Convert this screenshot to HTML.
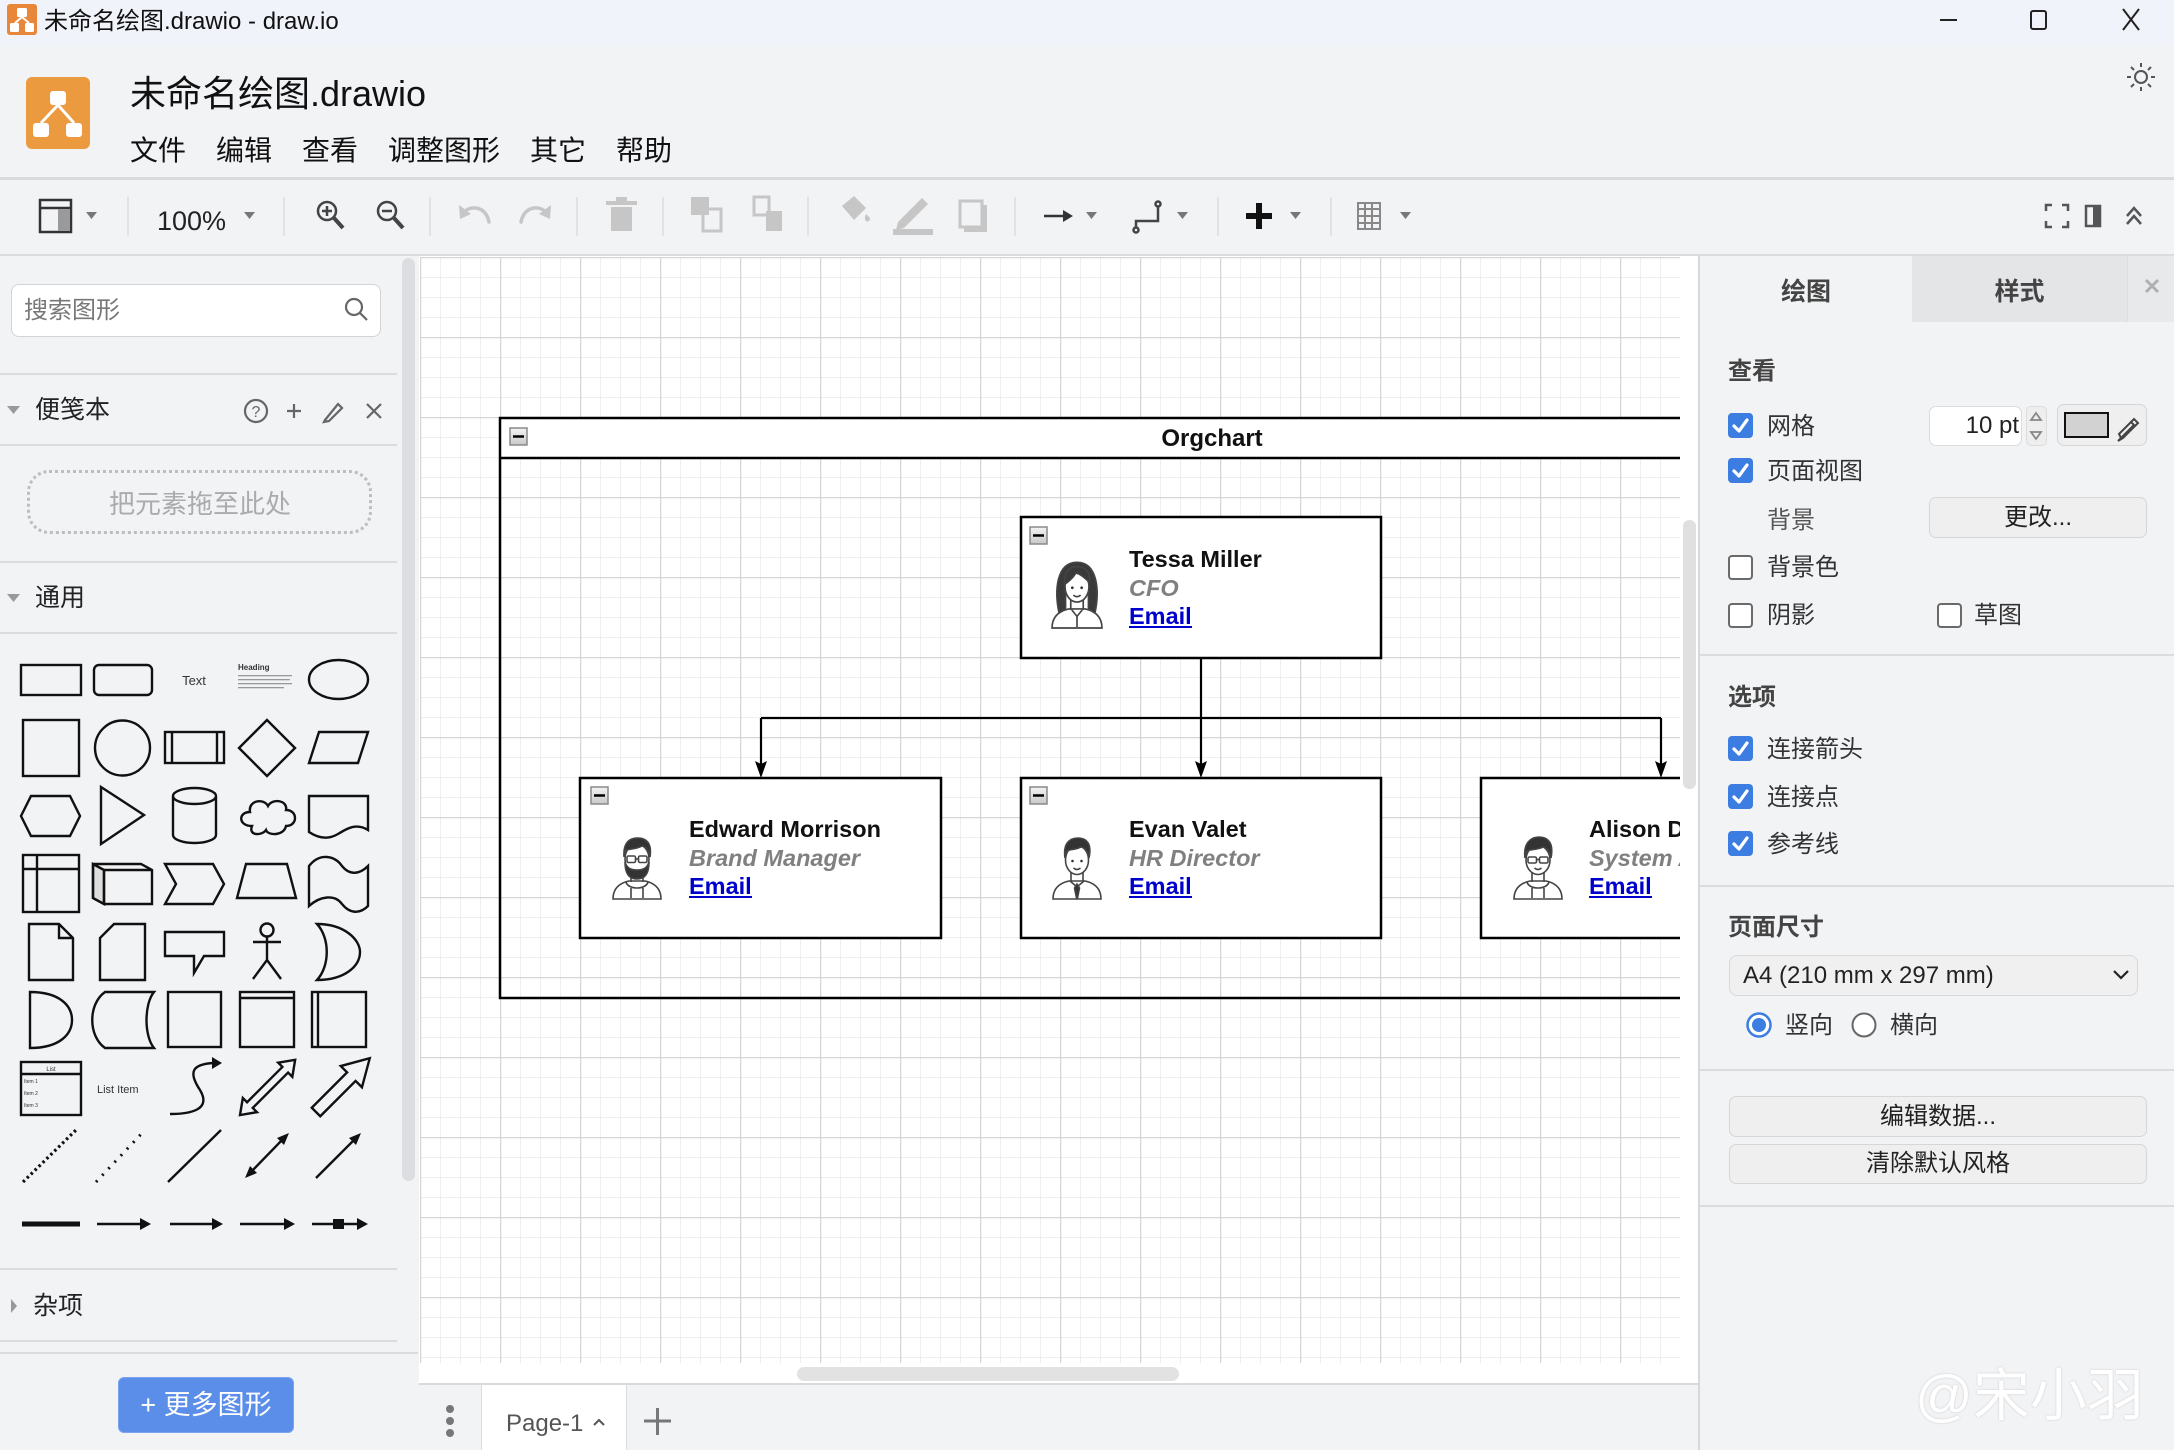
<!DOCTYPE html>
<html><head><meta charset="utf-8">
<style>
*{margin:0;padding:0;box-sizing:border-box}
html,body{width:2174px;height:1450px;overflow:hidden}
body{background:#f2f3f5;position:relative;font-family:"Liberation Sans","Noto Sans CJK SC",sans-serif;color:#222}
.a{position:absolute}
.t{position:absolute;white-space:nowrap;line-height:1}
.sep{position:absolute;background:#dcdcdc}
.cb{position:absolute;width:25px;height:25px;border-radius:4px}
.cb.on{background:#3b7de0}
.cb.off{background:#fff;border:2px solid #6a6a6a}
.btn{position:absolute;background:#efefef;border:1.5px solid #d6d6d6;border-radius:7px;font-size:24px;color:#222;display:flex;align-items:center;justify-content:center;line-height:1}
.rp{font-size:24px;color:#333}
.bold{font-weight:bold;color:#444}
</style></head><body>

<!-- backgrounds -->
<div class="a" style="left:0;top:0;width:2174px;height:45px;background:#f0f3f9"></div>
<div class="a" style="left:0;top:177px;width:2174px;height:3px;background:#dadada"></div>
<div class="a" style="left:0;top:254px;width:2174px;height:2px;background:#dcdcdc"></div>
<!-- canvas -->
<div class="a" style="left:419px;top:256px;width:1279px;height:1127px;background:#fff"></div>
<div class="a" style="left:1683px;top:520px;width:13px;height:269px;background:#e0e0e0;border-radius:6px"></div>
<div class="a" style="left:797px;top:1367px;width:382px;height:14px;background:#e2e2e2;border-radius:7px"></div>
<!-- bottom bar -->
<div class="a" style="left:419px;top:1383px;width:1280px;height:67px;background:#f2f3f5;border-top:2px solid #dadada"></div>
<div class="a" style="left:481px;top:1385px;width:146px;height:65px;background:#fff;border-left:1px solid #ddd;border-right:1px solid #ddd"></div>
<!-- left scrollbar -->
<div class="a" style="left:402px;top:258px;width:13px;height:923px;background:#dcdde0;border-radius:7px"></div>
<!-- right panel -->
<div class="a" style="left:1698px;top:256px;width:476px;height:1194px;background:#f2f3f5;border-left:2px solid #d8d8d8"></div>
<div class="a" style="left:1912px;top:256px;width:215px;height:66px;background:#e4e5e7"></div>
<div class="a" style="left:2127px;top:256px;width:47px;height:66px;background:#e8e9eb;border-left:1px solid #dedede"></div>
<div class="sep" style="left:1700px;top:654px;width:474px;height:2px"></div>
<div class="sep" style="left:1700px;top:885px;width:474px;height:2px"></div>
<div class="sep" style="left:1700px;top:1069px;width:474px;height:2px"></div>
<div class="sep" style="left:1700px;top:1205px;width:474px;height:2px"></div>
<!-- left separators -->
<div class="sep" style="left:0;top:373px;width:397px;height:2px"></div>
<div class="sep" style="left:0;top:444px;width:397px;height:2px"></div>
<div class="sep" style="left:0;top:561px;width:397px;height:2px"></div>
<div class="sep" style="left:0;top:632px;width:397px;height:2px"></div>
<div class="sep" style="left:0;top:1268px;width:397px;height:2px"></div>
<div class="sep" style="left:0;top:1340px;width:397px;height:2px"></div>
<div class="sep" style="left:0;top:1352px;width:418px;height:2px"></div>
<!-- search box -->
<div class="a" style="left:11px;top:284px;width:370px;height:53px;background:#fff;border:1.5px solid #d4d4d4;border-radius:8px"></div>
<!-- drop box -->
<div class="a" style="left:27px;top:470px;width:345px;height:64px;border:3px dotted #bdbdbd;border-radius:22px"></div>
<!-- more shapes button -->
<div class="a" style="left:118px;top:1377px;width:176px;height:56px;background:#5b8ee9;border-radius:6px;border:1px solid #7aa3ee;color:#fff;font-size:27px;display:flex;align-items:center;justify-content:center;line-height:1">+ 更多图形</div>

<!-- right panel inputs -->
<div class="a" style="left:1929px;top:406px;width:93px;height:40px;background:#fff;border:1.5px solid #dcdcdc;border-radius:7px"></div>
<div class="a" style="left:2026px;top:406px;width:21px;height:40px;background:#eeeeee;border:1.5px solid #dcdcdc;border-radius:5px"></div>
<div class="a" style="left:2057px;top:404px;width:90px;height:42px;background:#efefef;border:1.5px solid #d6d6d6;border-radius:7px"></div>
<div class="a" style="left:2064px;top:412px;width:45px;height:26px;background:#d2d2d2;border:2px solid #111"></div>
<div class="btn" style="left:1929px;top:497px;width:218px;height:41px">更改...</div>
<div class="a" style="left:1729px;top:955px;width:409px;height:41px;background:#f0f0f0;border:1.5px solid #d8d8d8;border-radius:8px"></div>
<div class="btn" style="left:1729px;top:1096px;width:418px;height:41px">编辑数据...</div>
<div class="btn" style="left:1729px;top:1144px;width:418px;height:40px">清除默认风格</div>

<!-- checkboxes -->
<div class="cb on" style="left:1728px;top:413px"><svg width="25" height="25"><path d="M6,13 L11,18 L19,7" stroke="#fff" stroke-width="3.2" fill="none" stroke-linecap="round" stroke-linejoin="round"/></svg></div>
<div class="cb on" style="left:1728px;top:458px"><svg width="25" height="25"><path d="M6,13 L11,18 L19,7" stroke="#fff" stroke-width="3.2" fill="none" stroke-linecap="round" stroke-linejoin="round"/></svg></div>
<div class="cb off" style="left:1728px;top:555px"></div>
<div class="cb off" style="left:1728px;top:603px"></div>
<div class="cb off" style="left:1937px;top:603px"></div>
<div class="cb on" style="left:1728px;top:736px"><svg width="25" height="25"><path d="M6,13 L11,18 L19,7" stroke="#fff" stroke-width="3.2" fill="none" stroke-linecap="round" stroke-linejoin="round"/></svg></div>
<div class="cb on" style="left:1728px;top:784px"><svg width="25" height="25"><path d="M6,13 L11,18 L19,7" stroke="#fff" stroke-width="3.2" fill="none" stroke-linecap="round" stroke-linejoin="round"/></svg></div>
<div class="cb on" style="left:1728px;top:831px"><svg width="25" height="25"><path d="M6,13 L11,18 L19,7" stroke="#fff" stroke-width="3.2" fill="none" stroke-linecap="round" stroke-linejoin="round"/></svg></div>

<svg class="a" style="left:0;top:0" width="2174" height="1450" viewBox="0 0 2174 1450">
<defs>
<pattern id="grid" patternUnits="userSpaceOnUse" x="20" y="17" width="80" height="80">
<path d="M20.5,0 V80 M40.5,0 V80 M60.5,0 V80 M0,20.5 H80 M0,40.5 H80 M0,60.5 H80" stroke="#efefef" stroke-width="1"/>
<path d="M0.5,0 V80 M0,0.5 H80" stroke="#d6d6d6" stroke-width="1.5"/>
</pattern>
<clipPath id="cv"><rect x="419" y="256" width="1261" height="1127"/></clipPath>
<linearGradient id="cg" x1="0" y1="0" x2="0" y2="1"><stop offset="0" stop-color="#f4f4f4"/><stop offset="1" stop-color="#c8c8c8"/></linearGradient>
</defs>

<!-- title bar icon -->
<rect x="7" y="4" width="30" height="31" rx="3" fill="#e8873a"/>
<g fill="#fff"><rect x="17" y="8" width="10" height="9" rx="1.5"/><rect x="10" y="23" width="9" height="9" rx="1.5"/><rect x="25" y="23" width="9" height="9" rx="1.5"/></g>
<path d="M22,17 L15,23 M22,17 L29,23" stroke="#fff" stroke-width="2"/>
<!-- window controls -->
<path d="M1940,20 H1957" stroke="#222" stroke-width="2"/>
<rect x="2031" y="11" width="15" height="18" rx="2" fill="none" stroke="#222" stroke-width="2"/>
<path d="M2123,9 L2139,30 M2139,9 L2123,30" stroke="#222" stroke-width="2"/>
<!-- sun -->
<g stroke="#555" stroke-width="2" fill="none"><circle cx="2141" cy="77" r="6"/><path d="M2141,63 V67 M2141,87 V91 M2127,77 H2131 M2151,77 H2155 M2131,67 L2134,70 M2148,84 L2151,87 M2151,67 L2148,70 M2134,84 L2131,87"/></g>
<!-- header logo -->
<rect x="26" y="77" width="64" height="72" rx="6" fill="#ec9a3f"/>
<g fill="#fff"><rect x="50" y="91" width="16" height="14" rx="3"/><rect x="33" y="123" width="16" height="14" rx="3"/><rect x="66" y="123" width="16" height="14" rx="3"/></g>
<path d="M58,105 L41,123 M58,105 L74,123" stroke="#fff" stroke-width="3"/>

<!-- toolbar separators -->
<g stroke="#dcdcdc" stroke-width="1.5"><path d="M128,197 V236 M284,197 V236 M430,197 V236 M577,197 V236 M663,197 V236 M808,197 V236 M1015,197 V236 M1218,197 V236 M1331,197 V236"/></g>
<!-- toolbar icons -->
<rect x="40" y="200" width="31" height="32" fill="none" stroke="#333" stroke-width="2.5"/>
<path d="M40,208 H71" stroke="#333" stroke-width="2.5"/>
<rect x="58" y="209" width="12" height="22" fill="#9a9a9a"/>
<g fill="#777"><polygon points="86,212 97,212 91.5,219"/><polygon points="244,212 255,212 249.5,219"/><polygon points="1086,212 1097,212 1091.5,219"/><polygon points="1177,212 1188,212 1182.5,219"/><polygon points="1290,212 1301,212 1295.5,219"/><polygon points="1400,212 1411,212 1405.5,219"/></g>
<g stroke="#444" stroke-width="2.5" fill="none"><circle cx="327" cy="211" r="9"/><path d="M334,218 L343,228" stroke-width="4"/><path d="M322,211 H332 M327,206 V216"/>
<circle cx="387" cy="211" r="9"/><path d="M394,218 L403,228" stroke-width="4"/><path d="M382,211 H392"/></g>
<g stroke="#c6c6c6" stroke-width="3.5" fill="none" stroke-linecap="round"><path d="M462,214 C470,204 486,206 489,222"/><path d="M548,214 C540,204 524,206 521,222"/></g>
<g fill="#c6c6c6"><polygon points="459,205 460,219 471,214"/><polygon points="551,205 550,219 539,214"/>
<rect x="611" y="207" width="21" height="24"/><rect x="606" y="201" width="31" height="4"/><rect x="616" y="197" width="11" height="4"/>
<rect x="691" y="197" width="18" height="18"/><rect x="703" y="209" width="18" height="22" fill="none" stroke="#c6c6c6" stroke-width="3"/>
<rect x="754" y="197" width="15" height="18" fill="none" stroke="#c6c6c6" stroke-width="3"/><rect x="766" y="211" width="16" height="20"/>
<path d="M842,206 L854,196 L866,208 L854,220 Z"/><path d="M866,214 C862,222 870,224 870,218 Z"/>
<path d="M898,222 L922,198 L928,204 L904,228 L896,230 Z"/><rect x="893" y="229" width="40" height="6"/>
<rect x="960" y="201" width="22" height="26" fill="none" stroke="#c6c6c6" stroke-width="3"/><rect x="982" y="205" width="5" height="26"/><rect x="964" y="227" width="23" height="5"/></g>
<path d="M1044,216 H1064" stroke="#333" stroke-width="2.5"/><polygon points="1073,216 1063,210 1063,222" fill="#333"/>
<g stroke="#444" stroke-width="2.5" fill="none"><path d="M1136,228 V221 H1158 V206"/><circle cx="1136" cy="230" r="2.5"/><circle cx="1158" cy="204" r="2.5"/></g>
<path d="M1259,203 V229 M1246,216 H1272" stroke="#111" stroke-width="6"/>
<g stroke="#888" stroke-width="2" fill="none"><rect x="1358" y="203" width="22" height="26"/><path d="M1365,203 V229 M1372,203 V229 M1358,209 H1380 M1358,216 H1380 M1358,223 H1380"/></g>
<g stroke="#555" stroke-width="2.5" fill="none"><path d="M2046,211 V205 H2052 M2062,205 H2068 V211 M2068,221 V227 H2062 M2052,227 H2046 V221"/>
<rect x="2086" y="206" width="14" height="20"/><path d="M2127,216 L2134,208 L2141,216 M2127,224 L2134,216 L2141,224"/></g>
<rect x="2093" y="206" width="7" height="20" fill="#555"/>

<!-- left sidebar icons -->
<g stroke="#666" stroke-width="2.2" fill="none"><circle cx="354" cy="307" r="8"/><path d="M360,313 L367,320"/>
<circle cx="256" cy="411" r="11"/><path d="M287,411 H301 M294,404 V418 M367,404 L381,418 M381,404 L367,418"/>
<path d="M325,420 L338,404 L342,408 L329,421 L324,422 Z"/></g>
<text x="256" y="417" font-size="16" text-anchor="middle" fill="#666" font-family="Liberation Sans">?</text>
<g fill="#999"><polygon points="7,406 20,406 13.5,414"/><polygon points="7,594 20,594 13.5,602"/><polygon points="11,1299 11,1313 17,1306"/></g>

<!-- shapes palette -->
<g stroke="#111" stroke-width="2.4" fill="none">
<rect x="21" y="665" width="60" height="30"/>
<rect x="94" y="665" width="58" height="30" rx="5"/>
<ellipse cx="338.5" cy="679.5" rx="29.5" ry="19.5"/>
<rect x="23" y="720" width="56" height="56"/>
<circle cx="122.5" cy="748" r="27.5"/>
<rect x="165" y="732" width="59" height="31"/><path d="M172,732 V763 M217,732 V763"/>
<polygon points="267,720 295,748 267,776 239,748"/>
<polygon points="319,732 368,732 358,763 309,763"/>
<polygon points="21,816 31,796 70,796 80,816 70,836 31,836"/>
<polygon points="101,787 144,815 101,844"/>
<path d="M173,796 A21.5,8 0 0 1 216,796 L216,835 A21.5,8 0 0 1 173,835 Z M173,796 A21.5,8 0 0 0 216,796"/>
<path d="M252,826 C238,826 238,812 250,812 C248,800 264,798 268,806 C272,798 288,800 286,810 C298,810 298,826 286,826 C284,836 268,836 266,830 C262,836 248,836 252,826 Z"/>
<path d="M309,796 L368,796 L368,830 C355,822 345,830 338,834 C328,840 318,838 309,832 Z"/>
<rect x="23" y="855" width="56" height="57"/><path d="M37,855 V912 M23,869 H79"/>
<polygon points="93,864 104,870 104,904 93,898" fill="#ddd"/>
<path d="M93,864 L141,864 L152,870 L152,904 L104,904 L93,898 Z M93,864 L104,870 L152,870 M104,870 L104,904"/>
<polygon points="165,864 213,864 224,884 213,904 165,904 176,884"/>
<polygon points="246,864 287,864 296,898 237,898"/>
<path d="M309,866 C320,852 335,856 342,866 C350,876 360,874 368,866 L368,906 C360,914 350,914 342,904 C335,894 320,896 309,906 Z"/>
<path d="M29,924 L59,924 L73,938 L73,980 L29,980 Z M59,924 L59,938 L73,938"/>
<path d="M114,924 L145,924 L145,980 L100,980 L100,938 Z"/>
<path d="M165,932 L224,932 L224,956 L204,956 L194,973 L194,956 L165,956 Z"/>
<circle cx="267" cy="930" r="6.5"/><path d="M267,937 V960 M253,942 H281 M267,960 L253,979 M267,960 L281,979"/>
<path d="M317,924 C345,924 360,940 360,952 C360,966 345,980 317,980 C330,966 330,938 317,924 Z"/>
<path d="M30,992 C60,992 72,1006 72,1020 C72,1034 60,1048 30,1048 Z"/>
<path d="M105,992 L154,992 C144,1004 144,1036 154,1048 L105,1048 C88,1036 88,1004 105,992 Z"/>
<rect x="168" y="992" width="53" height="55"/>
<rect x="240" y="992" width="54" height="55"/><path d="M240,998 H294"/>
<rect x="312" y="992" width="54" height="55"/><path d="M318,992 V1047"/>
<rect x="21" y="1062" width="60" height="53"/><path d="M21,1074 H81"/>
<path d="M170,1114 C190,1114 212,1110 200,1090 C188,1072 192,1064 214,1063"/>
<g transform="translate(240,1115) rotate(-45)"><polygon points="0,0 14,-10 14,-4 64,-4 64,-10 78,0 64,10 64,4 14,4 14,10"/></g>
<g transform="translate(316,1112) rotate(-45)"><polygon points="0,-6 50,-6 50,-15 76,0 50,15 50,6 0,6"/></g>
<path d="M23,1182 L76,1130" stroke-width="3.2" stroke-dasharray="2.5 3"/>
<path d="M96,1182 L145,1130" stroke-width="3" stroke-dasharray="2 7"/>
<path d="M168,1182 L221,1130"/>
<path d="M250,1173 L284,1138"/>
<path d="M316,1178 L356,1138"/>
<path d="M22,1224 H80" stroke-width="5"/>
<path d="M97,1224 H142 M170,1224 H214 M240,1224 H286 M312,1224 H360"/>
</g>
<g fill="#111">
<polygon points="222,1063 212,1057 212,1069"/>
<polygon points="289,1133 284,1145 277,1138"/><polygon points="245,1178 257,1173 250,1166"/>
<polygon points="361,1133 356,1145 349,1138"/>
<polygon points="151,1224 140,1218 140,1230"/><polygon points="223,1224 212,1218 212,1230"/><polygon points="295,1224 284,1218 284,1230"/><polygon points="368,1224 357,1218 357,1230"/>
<rect x="333" y="1219" width="11" height="10"/>
</g>
<g fill="#999"><rect x="238" y="675" width="54" height="1.3"/><rect x="238" y="679" width="52" height="1.3"/><rect x="238" y="683" width="54" height="1.3"/><rect x="238" y="687" width="46" height="1.3"/></g>
<g font-family="Liberation Sans" fill="#333">
<text x="194" y="685" font-size="13" text-anchor="middle">Text</text>
<text x="238" y="670" font-size="8" font-weight="bold">Heading</text>
<text x="97" y="1093" font-size="11">List Item</text>
<text x="51" y="1071" font-size="6" text-anchor="middle">List</text>
<text x="24" y="1083" font-size="5">Item 1</text><text x="24" y="1095" font-size="5">Item 2</text><text x="24" y="1107" font-size="5">Item 3</text>
</g>

<!-- right panel small icons -->
<path d="M2146,280 L2158,292 M2158,280 L2146,292" stroke="#b0b0b0" stroke-width="3"/>
<g stroke="#888" stroke-width="1.8" fill="none"><polygon points="2031,420 2041,420 2036,413"/><polygon points="2031,432 2041,432 2036,439"/></g>
<g stroke="#444" stroke-width="2" fill="none"><path d="M2121,438 L2134,425"/><path d="M2118,441 L2121,438 L2119,434 L2131,422 L2135,426 L2123,438 Z"/><path d="M2131,422 L2134,419 L2138,423 L2135,426"/></g>
<polyline points="2114,971 2121,978 2128,971" stroke="#222" stroke-width="2.2" fill="none"/>
<circle cx="1759" cy="1025" r="11.5" fill="#fff" stroke="#3b7de0" stroke-width="2.5"/><circle cx="1759" cy="1025" r="7" fill="#3b7de0"/>
<circle cx="1864" cy="1025" r="11.5" fill="#fff" stroke="#666" stroke-width="2"/>

<!-- bottom bar icons -->
<g fill="#777"><circle cx="450" cy="1409" r="4"/><circle cx="450" cy="1421" r="4"/><circle cx="450" cy="1433" r="4"/></g>
<polyline points="594,1425 599,1420 604,1425" stroke="#555" stroke-width="2" fill="none"/>
<path d="M644,1421 H671 M657.5,1408 V1435" stroke="#777" stroke-width="3"/>

<!-- canvas grid + diagram -->
<g clip-path="url(#cv)">
<rect x="420" y="257" width="1260" height="1106" fill="url(#grid)"/>
<rect x="500" y="418" width="1300" height="40" fill="#fff"/>
<rect x="500" y="418" width="1300" height="580" fill="none" stroke="#000" stroke-width="2.5"/>
<path d="M500,458 H1800" stroke="#000" stroke-width="2.5"/>
<text x="1212" y="446" font-family="Liberation Sans" font-size="24" font-weight="bold" text-anchor="middle" fill="#111">Orgchart</text>

<!-- connectors -->
<g stroke="#000" stroke-width="2.2" fill="none"><path d="M1201,658 V764 M761,718 H1661 M761,718 V764 M1661,718 V764"/></g>
<g fill="#000"><polygon points="1201,778 1195,761 1201,764 1207,761"/><polygon points="761,778 755,761 761,764 767,761"/><polygon points="1661,778 1655,761 1661,764 1667,761"/></g>

<!-- boxes -->
<g fill="#fff" stroke="#000" stroke-width="2.5">
<rect x="1021" y="517" width="360" height="141"/>
<rect x="580" y="778" width="361" height="160"/>
<rect x="1021" y="778" width="360" height="160"/>
<rect x="1481" y="778" width="400" height="160"/>
</g>
<!-- collapse icons -->
<g><rect x="510" y="428" width="17" height="17" fill="url(#cg)" stroke="#8a8a8a" stroke-width="1.5"/><path d="M513,436.5 H524" stroke="#000" stroke-width="2.5"/>
<rect x="1030" y="527" width="17" height="17" fill="url(#cg)" stroke="#8a8a8a" stroke-width="1.5"/><path d="M1033,535.5 H1044" stroke="#000" stroke-width="2.5"/>
<rect x="591" y="787" width="17" height="17" fill="url(#cg)" stroke="#8a8a8a" stroke-width="1.5"/><path d="M594,795.5 H605" stroke="#000" stroke-width="2.5"/>
<rect x="1030" y="787" width="17" height="17" fill="url(#cg)" stroke="#8a8a8a" stroke-width="1.5"/><path d="M1033,795.5 H1044" stroke="#000" stroke-width="2.5"/></g>

<!-- texts -->
<g font-family="Liberation Sans" font-size="23.5" font-weight="bold">
<text x="1129" y="567" fill="#111">Tessa Miller</text>
<text x="1129" y="596" fill="#808080" font-style="italic">CFO</text>
<text x="1129" y="624" fill="#0000cc">Email</text>
<text x="689" y="837" fill="#111">Edward Morrison</text>
<text x="689" y="866" fill="#808080" font-style="italic">Brand Manager</text>
<text x="689" y="894" fill="#0000cc">Email</text>
<text x="1129" y="837" fill="#111">Evan Valet</text>
<text x="1129" y="866" fill="#808080" font-style="italic">HR Director</text>
<text x="1129" y="894" fill="#0000cc">Email</text>
<text x="1589" y="837" fill="#111">Alison Donovan</text>
<text x="1589" y="866" fill="#808080" font-style="italic">System Admin</text>
<text x="1589" y="894" fill="#0000cc">Email</text>
</g>
<g fill="#0000cc"><rect x="1129" y="626" width="63" height="2"/><rect x="689" y="896" width="63" height="2"/><rect x="1129" y="896" width="63" height="2"/><rect x="1589" y="896" width="63" height="2"/></g>

<!-- avatars -->
<g transform="translate(1051,557) scale(1.04,1.06)" stroke="#444" stroke-width="1.6">
<path d="M8,54 C3,32 5,5 25,5 C45,5 47,32 42,54 L36,52 L36,30 L14,30 L14,52 Z" fill="#3a3a3a"/>
<path d="M1,67 C1,56 8,51 17,49 L33,49 C42,51 49,56 49,67 Z" fill="#fff"/>
<path d="M19,40 V50 M31,40 V50 M20,50 L25,56 L30,50 M25,56 V66" fill="none"/>
<ellipse cx="25" cy="28" rx="11.5" ry="14.5" fill="#fff"/>
<path d="M13,26 C12,14 18,9 25,9 C33,9 38,14 37,24 C33,20 28,16 24,15 C21,20 17,23 13,26 Z" fill="#3a3a3a"/>
<circle cx="20.5" cy="29" r="1.3" fill="#333" stroke="none"/><circle cx="29.5" cy="29" r="1.3" fill="#333" stroke="none"/>
<path d="M21.5,36 Q25,39 28.5,36" fill="none"/>
</g>
<g transform="translate(612,832)" stroke="#444" stroke-width="1.6">
<path d="M1,67 C1,56 8,51 17,49 L33,49 C42,51 49,56 49,67 Z" fill="#fff"/>
<path d="M14,50 C16,58 34,58 36,50 M19,56 V66 M31,56 V66" fill="none"/>
<path d="M19,40 V50 M31,40 V50" fill="none"/>
<ellipse cx="25" cy="27" rx="12" ry="15" fill="#fff"/>
<path d="M12,25 C11,11 17,6 26,6 C35,6 40,12 38,25 C37,18 34,15 30,14 C25,17 18,17 14,18 C13,20 12,23 12,25 Z" fill="#333"/>
<path d="M13,30 C13,43 18,47 25,47 C32,47 37,43 37,30 C35,37 30,38 25,38 C20,38 15,37 13,30 Z" fill="#333"/>
<rect x="15" y="24" width="8.5" height="6.5" rx="1.5" fill="none"/><rect x="26.5" y="24" width="8.5" height="6.5" rx="1.5" fill="none"/>
<path d="M23.5,27 H26.5" fill="none"/>
</g>
<g transform="translate(1052,832)" stroke="#444" stroke-width="1.6">
<path d="M1,67 C1,56 8,51 17,49 L33,49 C42,51 49,56 49,67 Z" fill="#fff"/>
<path d="M19,40 V50 M31,40 V50 M18,49 L25,55 L32,49" fill="none"/>
<polygon points="25,52 22.5,56 24.5,66 25.5,66 27.5,56" fill="#333"/>
<ellipse cx="25" cy="28" rx="11.5" ry="14.5" fill="#fff"/>
<path d="M13,26 C11,12 17,6 26,6 C35,6 40,12 37,26 C36,19 33,16 29,15 C24,18 18,17 15,19 C14,21 13,23 13,26 Z" fill="#333"/>
<circle cx="20.5" cy="29" r="1.3" fill="#333" stroke="none"/><circle cx="29.5" cy="29" r="1.3" fill="#333" stroke="none"/>
<path d="M21.5,36 Q25,39 28.5,36" fill="none"/>
</g>
<g transform="translate(1513,832)" stroke="#444" stroke-width="1.6">
<path d="M1,67 C1,56 8,51 17,49 L33,49 C42,51 49,56 49,67 Z" fill="#fff"/>
<path d="M14,50 C16,58 34,58 36,50 M19,56 V66 M31,56 V66" fill="none"/>
<path d="M19,40 V50 M31,40 V50" fill="none"/>
<ellipse cx="25" cy="28" rx="12" ry="14.5" fill="#fff"/>
<path d="M12,26 C10,11 18,5 26,5 C35,5 41,11 38,26 C37,19 34,16 30,15 C25,18 18,17 14,19 C13,21 12,23 12,26 Z" fill="#333"/>
<rect x="15" y="25" width="8.5" height="6" rx="1.5" fill="none"/><rect x="26.5" y="25" width="8.5" height="6" rx="1.5" fill="none"/>
<path d="M23.5,27.5 H26.5" fill="none"/>
<path d="M21.5,36 Q25,39 28.5,36" fill="none"/>
</g>
</g>
</svg>

<!-- text -->
<div class="t" style="left:44px;top:10px;font-size:24px;color:#111">未命名绘图.drawio - draw.io</div>
<div class="t" style="left:130px;top:76px;font-size:36px;color:#111">未命名绘图.drawio</div>
<div class="t" style="left:130px;top:137px;font-size:28px;color:#111">文件</div>
<div class="t" style="left:216px;top:137px;font-size:28px;color:#111">编辑</div>
<div class="t" style="left:302px;top:137px;font-size:28px;color:#111">查看</div>
<div class="t" style="left:388px;top:137px;font-size:28px;color:#111">调整图形</div>
<div class="t" style="left:530px;top:137px;font-size:28px;color:#111">其它</div>
<div class="t" style="left:616px;top:137px;font-size:28px;color:#111">帮助</div>
<div class="t" style="left:157px;top:208px;font-size:27px;color:#222">100%</div>

<div class="t" style="left:24px;top:299px;font-size:24px;color:#777">搜索图形</div>
<div class="t" style="left:35px;top:398px;font-size:25px;color:#222">便笺本</div>
<div class="t" style="left:109px;top:491px;font-size:26px;color:#ababab">把元素拖至此处</div>
<div class="t" style="left:35px;top:586px;font-size:25px;color:#222">通用</div>
<div class="t" style="left:33px;top:1294px;font-size:25px;color:#222">杂项</div>

<div class="t" style="left:1700px;width:212px;text-align:center;top:280px;font-size:25px;font-weight:bold;color:#444">绘图</div>
<div class="t" style="left:1912px;width:215px;text-align:center;top:280px;font-size:25px;font-weight:bold;color:#444">样式</div>
<div class="t bold" style="left:1728px;top:360px;font-size:24px">查看</div>
<div class="t rp" style="left:1767px;top:415px">网格</div>
<div class="t" style="left:1929px;width:90px;text-align:right;top:414px;font-size:24px;color:#222">10 pt</div>
<div class="t rp" style="left:1767px;top:460px">页面视图</div>
<div class="t rp" style="left:1767px;top:509px;color:#555">背景</div>
<div class="t rp" style="left:1767px;top:556px">背景色</div>
<div class="t rp" style="left:1767px;top:604px">阴影</div>
<div class="t rp" style="left:1974px;top:604px">草图</div>
<div class="t bold" style="left:1728px;top:686px;font-size:24px">选项</div>
<div class="t rp" style="left:1767px;top:738px">连接箭头</div>
<div class="t rp" style="left:1767px;top:786px">连接点</div>
<div class="t rp" style="left:1767px;top:833px">参考线</div>
<div class="t bold" style="left:1728px;top:916px;font-size:24px">页面尺寸</div>
<div class="t" style="left:1743px;top:964px;font-size:24px;color:#222">A4 (210 mm x 297 mm)</div>
<div class="t rp" style="left:1785px;top:1014px">竖向</div>
<div class="t rp" style="left:1890px;top:1014px">横向</div>

<div class="t" style="left:506px;top:1412px;font-size:24px;color:#555">Page-1</div>
<div class="t" style="left:1915px;top:1368px;font-size:57px;color:#ffffff;text-shadow:0 0 2px #d0d0d0,0 0 1px #d8d8d8">@宋小羽</div>
</body></html>
